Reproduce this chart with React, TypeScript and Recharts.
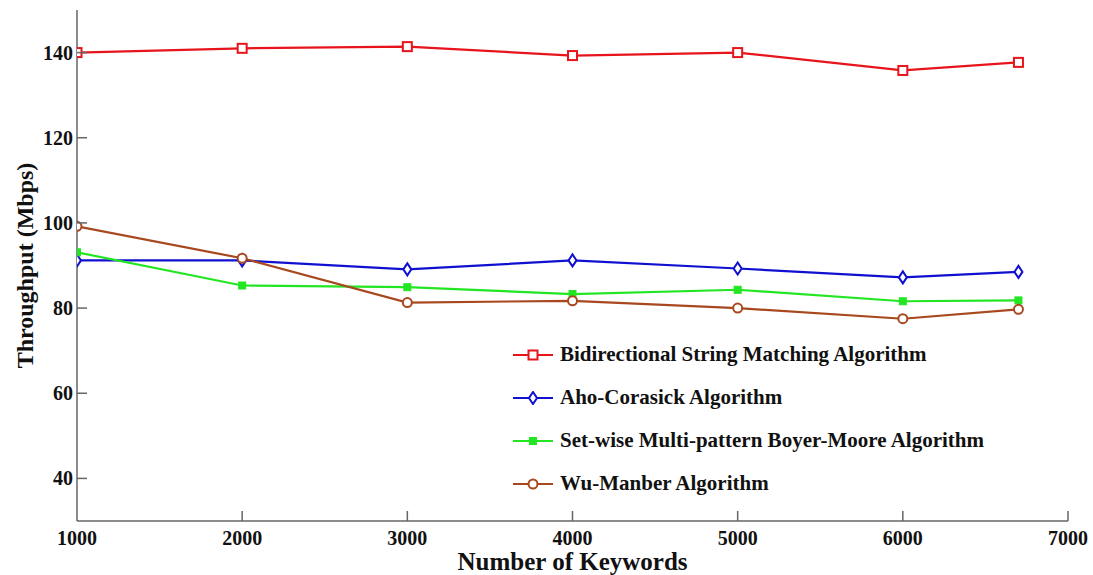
import React from 'react';
import { LineChart, Line, XAxis, YAxis, Legend, Label } from 'recharts';

const keywords = [1000, 2000, 3000, 4000, 5000, 6000, 6700];
const bidirectional = [140, 141, 141.4, 139.3, 140, 135.8, 137.7];
const ahoCorasick = [91.2, 91.2, 89.1, 91.2, 89.3, 87.2, 88.5];
const setwise = [93.1, 85.3, 84.9, 83.3, 84.3, 81.6, 81.8];
const wuManber = [99.2, 91.7, 81.3, 81.7, 80.0, 77.5, 79.7];

const xTicks = [1000, 2000, 3000, 4000, 5000, 6000, 7000];
const yTicks = [40, 60, 80, 100, 120, 140];

const seriesNames = [
  'Bidirectional String Matching Algorithm',
  'Aho-Corasick Algorithm',
  'Set-wise Multi-pattern Boyer-Moore Algorithm',
  'Wu-Manber Algorithm',
];
const seriesKeys = ['bsm', 'ac', 'sbm', 'wm'];
const seriesColors = ['#e8141c', '#1010d0', '#22e622', '#a8481e'];
const markerShapes = ['square', 'diamond', 'filled', 'circle'];

const data = keywords.map((k, i) => ({
  k,
  bsm: bidirectional[i],
  ac: ahoCorasick[i],
  sbm: setwise[i],
  wm: wuManber[i],
}));

const FONT = '"Liberation Serif", "Times New Roman", serif';
const AXIS_COLOR = '#666';

function Marker({ cx, cy, shape, color }: any) {
  if (cx == null || cy == null) return null;
  if (shape === 'square')
    return <rect x={cx - 4.5} y={cy - 4.5} width={9} height={9} fill="#fff" stroke={color} strokeWidth={2} />;
  if (shape === 'diamond')
    return (
      <polygon
        points={`${cx},${cy - 6} ${cx + 4},${cy} ${cx},${cy + 6} ${cx - 4},${cy}`}
        fill="#fff"
        stroke={color}
        strokeWidth={2}
      />
    );
  if (shape === 'filled')
    return <rect x={cx - 3.5} y={cy - 3.5} width={7} height={7} fill={color} stroke={color} strokeWidth={1} />;
  return <circle cx={cx} cy={cy} r={4.5} fill="#fff" stroke={color} strokeWidth={2} />;
}

function XTick({ x, y, payload }: any) {
  const axisY = y - 8;
  return (
    <g>
      {payload.value !== 1000 && (
        <line x1={x} y1={axisY} x2={x} y2={axisY - 10} stroke={AXIS_COLOR} strokeWidth={1.5} />
      )}
      <text x={x} y={y} dy="0.8em" textAnchor="middle" fontFamily={FONT} fontWeight="bold" fontSize={20} fill="#111">
        {payload.value}
      </text>
    </g>
  );
}

function YTick({ x, y, payload }: any) {
  const axisX = x + 4;
  return (
    <g>
      <line x1={axisX} y1={y} x2={axisX + 10} y2={y} stroke={AXIS_COLOR} strokeWidth={1.5} />
      <text x={x} y={y} dy="0.35em" textAnchor="end" fontFamily={FONT} fontWeight="bold" fontSize={20} fill="#111">
        {payload.value}
      </text>
    </g>
  );
}

function LegendContent() {
  return (
    <div style={{ fontFamily: FONT, fontWeight: 'bold', fontSize: 21, color: '#111', whiteSpace: 'nowrap' }}>
      {seriesNames.map((name, i) => (
        <div key={name} style={{ display: 'flex', alignItems: 'center', height: 43 }}>
          <svg width={44} height={14} style={{ marginRight: 3 }}>
            <line x1={0} y1={7} x2={40} y2={7} stroke={seriesColors[i]} strokeWidth={2} />
            <Marker cx={20} cy={7} shape={markerShapes[i]} color={seriesColors[i]} />
          </svg>
          <span>{name}</span>
        </div>
      ))}
    </div>
  );
}

export default function App() {
  return (
    <div style={{ position: 'absolute', left: 0, top: 0, background: '#fff' }}>
      <LineChart width={1093} height={575} data={data} margin={{ top: 10, right: 25, bottom: 0, left: 0 }}>
        <XAxis
          dataKey="k"
          type="number"
          domain={[1000, 7000]}
          ticks={xTicks}
          height={54}
          tickSize={0}
          tickMargin={8}
          tickLine={false}
          tick={<XTick />}
          stroke={AXIS_COLOR}
          strokeWidth={1.5}
          allowDataOverflow
        >
          <Label
            content={({ viewBox }: any) => {
              const cx = viewBox.x + viewBox.width / 2;
              const by = viewBox.y + viewBox.height - 5;
              return (
                <text x={cx} y={by} textAnchor="middle" fontFamily={FONT} fontWeight="bold" fontSize={25} fill="#111">
                  Number of Keywords
                </text>
              );
            }}
          />
        </XAxis>
        <YAxis
          type="number"
          domain={[30, 150]}
          ticks={yTicks}
          width={77}
          tickSize={0}
          tickMargin={4}
          tickLine={false}
          tick={<YTick />}
          stroke={AXIS_COLOR}
          strokeWidth={1.5}
          allowDataOverflow
        >
          <Label
            content={({ viewBox }: any) => {
              const cx = viewBox.x + 25;
              const cy = viewBox.y + viewBox.height / 2;
              return (
                <text
                  x={cx}
                  y={cy}
                  transform={`rotate(-90 ${cx} ${cy})`}
                  textAnchor="middle"
                  dominantBaseline="central"
                  fontFamily={FONT}
                  fontWeight="bold"
                  fontSize={24}
                  fill="#111"
                >
                  Throughput (Mbps)
                </text>
              );
            }}
          />
        </YAxis>
        <Legend
          layout="horizontal"
          verticalAlign="middle"
          align="center"
          content={<LegendContent />}
          wrapperStyle={{ left: 513, top: 333, width: 520 }}
        />
        {seriesKeys.map((key, i) => (
          <Line
            key={key}
            dataKey={key}
            name={seriesNames[i]}
            stroke={seriesColors[i]}
            strokeWidth={2.2}
            isAnimationActive={false}
            dot={(p: any) => <Marker key={`${key}-${p.index}`} cx={p.cx} cy={p.cy} shape={markerShapes[i]} color={seriesColors[i]} />}
            activeDot={false}
          />
        ))}
      </LineChart>
    </div>
  );
}
